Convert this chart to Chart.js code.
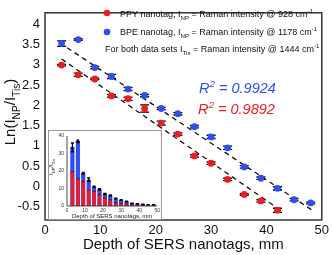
<!DOCTYPE html>
<html>
<head>
<meta charset="utf-8">
<script src="https://cdn.jsdelivr.net/npm/chart.js@4.4.0/dist/chart.umd.min.js"></script>
<style>
  body { margin: 0; background: #fff; }
  #wrap { position: relative; width: 332px; height: 255px; }
  #ins { position: absolute; left: 48px; top: 130px; }
</style>
</head>
<body>
<div id="wrap">
  <canvas id="main" width="332" height="255"></canvas>
  <canvas id="ins" width="114" height="90"></canvas>
</div>
<script>
// main plot data
const depthPPY = [3, 6, 9, 12, 15, 18, 21, 24, 27, 30, 33, 36, 39, 42];
const lnPPY = [2.99, 2.75, 2.65, 2.23, 2.16, 1.92, 1.56, 1.29, 0.75, 0.57, 0.17, -0.20, -0.36, -0.59];
const errPPY = [0.02, 0.04, 0.02, 0.03, 0.04, 0.09, 0.05, 0.03, 0.03, 0.03, 0.03, 0.02, 0.03, 0.05];

const depthBPE = [3, 6, 9, 12, 15, 18, 21, 24, 27, 30, 33, 36, 39, 42, 45, 48];
const lnBPE = [3.52, 3.62, 2.93, 2.71, 2.40, 2.24, 1.92, 1.79, 1.47, 1.22, 0.95, 0.48, 0.20, -0.05, -0.33, -0.41];
const errBPE = [0.07, 0.02, 0.03, 0.05, 0.04, 0.03, 0.03, 0.03, 0.03, 0.04, 0.04, 0.03, 0.03, 0.04, 0.03, 0.02];

// dashed linear fits, end points
const fitPPYx = [3, 43.1];
const fitPPYy = [3.14, -0.64];
const fitBPEx = [4, 48.5];
const fitBPEy = [3.42, -0.61];

const xTicks = [0, 10, 20, 30, 40, 50];
const yTicks = [-0.5, 0, 0.5, 1, 1.5, 2, 2.5, 3, 3.5, 4];

// inset bar data
const insetDepth = [3, 6, 9, 12, 15, 18, 21, 24, 27, 30, 33, 36, 39, 42, 45, 48];
const insetBPE = [33.5, 37, 18.7, 15, 11, 9.5, 6.9, 6, 4.3, 3.4, 2.6, 1.6, 1.2, 0.95, 0.7, 0.65];
const insetBPEerr = [2.5, 0.7, 0.5, 1, 0.4, 0.4, 0.3, 0.3, 0.2, 0.2, 0.2, 0.1, 0.1, 0.1, 0.1, 0.1];
const insetPPY = [19.9, 15.6, 14.2, 9.3, 8.7, 6.8, 4.8, 3.6, 2.1, 1.8, 1.2, 0.8, 0.7, 0.55];
const insetXTicks = [0, 10, 20, 30, 40, 50];
const insetYTicks = [0, 5, 10, 15, 20, 25, 30, 35, 40];

const RED = '#ec1c24';
const BLUE = '#2f4ff0';
const FONT = 'Arial, "Liberation Sans", sans-serif';

const pts = (xs, ys) => xs.map((x, i) => ({ x: x, y: ys[i] }));

// text with sub/superscripts
function rich(ctx, parts, x, y, size, color, opt) {
  opt = opt || {};
  const style = opt.italic ? 'italic ' : '';
  let w = 0;
  const seg = parts.map(p => {
    const s = p[1] ? size * 0.68 : size;
    ctx.font = style + s + 'px ' + FONT;
    const m = ctx.measureText(p[0]).width;
    w += m;
    return { t: p[0], k: p[1], s: s, m: m };
  });
  let cx = opt.center ? x - w / 2 : x;
  ctx.fillStyle = color;
  ctx.textAlign = 'left';
  ctx.textBaseline = 'alphabetic';
  seg.forEach(g => {
    ctx.font = style + g.s + 'px ' + FONT;
    const dy = g.k === 'sub' ? size * 0.3 : g.k === 'sup' ? -size * 0.42 : 0;
    ctx.fillText(g.t, cx, y + dy);
    cx += g.m;
  });
}

function drawErr(ctx, xs, ys, es, sx, sy, cap) {
  ctx.save();
  ctx.strokeStyle = '#000';
  ctx.lineWidth = 1.3;
  xs.forEach((x, i) => {
    const px = sx.getPixelForValue(x);
    const top = sy.getPixelForValue(ys[i] + es[i]);
    const bot = sy.getPixelForValue(ys[i] - es[i]);
    ctx.beginPath();
    ctx.moveTo(px, top); ctx.lineTo(px, bot);
    ctx.moveTo(px - cap, top); ctx.lineTo(px + cap, top);
    ctx.moveTo(px - cap, bot); ctx.lineTo(px + cap, bot);
    ctx.stroke();
  });
  ctx.restore();
}

const mainDecor = {
  id: 'mainDecor',
  beforeDatasetsDraw(chart) {
    const { ctx, scales } = chart;
    drawErr(ctx, depthPPY, lnPPY, errPPY, scales.x, scales.y, 4.5);
    drawErr(ctx, depthBPE, lnBPE, errBPE, scales.x, scales.y, 4.5);
  },
  afterDraw(chart) {
    const { ctx, chartArea: a } = chart;
    ctx.save();
    ctx.strokeStyle = '#333';
    ctx.lineWidth = 1.5;
    ctx.strokeRect(a.left, a.top, a.right - a.left, a.bottom - a.top);

    // y axis title
    ctx.translate(15, 112);
    ctx.rotate(-Math.PI / 2);
    rich(ctx, [['Ln(I'], ['NP', 'sub'], ['/I'], ['Tis', 'sub'], [')']], 0, 0, 15, '#111', { center: true });
    ctx.restore();

    // legend
    ctx.save();
    ctx.fillStyle = RED;
    ctx.beginPath(); ctx.arc(107, 13, 3.3, 0, Math.PI * 2); ctx.fill();
    ctx.fillStyle = BLUE;
    ctx.beginPath(); ctx.arc(107, 32, 3.3, 0, Math.PI * 2); ctx.fill();
    ctx.restore();
    rich(ctx, [['PPY nanotag, I'], ['NP', 'sub'], [' = Raman intensity @ 928 cm'], ['-1', 'sup']], 120, 17, 9, '#111');
    rich(ctx, [['BPE nanotag, I'], ['NP', 'sub'], [' = Raman intensity @ 1178 cm'], ['-1', 'sup']], 120, 35, 9, '#111');
    rich(ctx, [['For both data sets I'], ['Tis', 'sub'], [' = Raman intensity @ 1444 cm'], ['-1', 'sup']], 105, 52, 9, '#111');

    // R squared
    rich(ctx, [['R'], ['2', 'sup'], [' = 0.9924']], 199, 93, 14.5, BLUE, { italic: true });
    rich(ctx, [['R'], ['2', 'sup'], [' = 0.9892']], 198, 114, 14.5, RED, { italic: true });
  }
};

new Chart(document.getElementById('main').getContext('2d'), {
  type: 'scatter',
  data: {
    datasets: [
      { data: pts(depthPPY, lnPPY), backgroundColor: RED, borderWidth: 0, pointRadius: 3.4 },
      { data: pts(depthBPE, lnBPE), backgroundColor: BLUE, borderWidth: 0, pointRadius: 3.4 },
      { data: pts(fitPPYx, fitPPYy), showLine: true, borderColor: '#111', borderWidth: 1.3, borderDash: [5, 4], pointRadius: 0 },
      { data: pts(fitBPEx, fitBPEy), showLine: true, borderColor: '#111', borderWidth: 1.3, borderDash: [5, 4], pointRadius: 0 }
    ]
  },
  options: {
    responsive: false,
    animation: false,
    devicePixelRatio: 1,
    layout: { padding: { top: 3, right: 10, left: 0, bottom: 0 } },
    plugins: { legend: { display: false }, tooltip: { enabled: false } },
    scales: {
      x: {
        type: 'linear', min: 0, max: 50,
        afterBuildTicks: s => { s.ticks = xTicks.map(v => ({ value: v })); },
        afterFit: s => { s.height = 35; },
        grid: { display: false, drawTicks: false },
        border: { display: false },
        ticks: { color: '#111', font: { family: FONT, size: 13 }, padding: 3, callback: v => String(v) },
        title: { display: true, text: 'Depth of SERS nanotags, mm', color: '#111', font: { family: FONT, size: 15 }, padding: { top: 0, bottom: 1 } }
      },
      y: {
        min: -0.83, max: 4.28,
        afterBuildTicks: s => { s.ticks = yTicks.map(v => ({ value: v })); },
        afterFit: s => { s.width = 45; },
        grid: { display: false, drawTicks: false },
        border: { display: false },
        ticks: { color: '#111', font: { family: FONT, size: 13 }, padding: 5, callback: v => String(v) }
      }
    }
  },
  plugins: [mainDecor]
});

// inset
const insetDecor = {
  id: 'insetDecor',
  beforeDraw(chart) {
    const ctx = chart.ctx;
    ctx.save();
    ctx.fillStyle = '#fff';
    ctx.fillRect(0, 0, chart.width, chart.height);
    ctx.restore();
  },
  afterDatasetsDraw(chart) {
    const { ctx, scales } = chart;
    drawErr(ctx, insetDepth, insetBPE, insetBPEerr, scales.x, scales.y, 1.5);
  },
  afterDraw(chart) {
    const { ctx, chartArea: a } = chart;
    ctx.save();
    ctx.strokeStyle = '#999';
    ctx.lineWidth = 1;
    ctx.strokeRect(0.5, 0.5, chart.width - 1, chart.height - 1);
    ctx.strokeStyle = '#222';
    ctx.lineWidth = 0.8;
    ctx.beginPath();
    ctx.moveTo(a.left, a.top); ctx.lineTo(a.left, a.bottom); ctx.lineTo(a.right, a.bottom);
    ctx.stroke();
    ctx.translate(5, 37);
    ctx.rotate(-Math.PI / 2);
    rich(ctx, [['I'], ['NP', 'sub'], ['/I'], ['Tis', 'sub']], 0, 0, 6, '#222', { center: true });
    ctx.restore();
  }
};

new Chart(document.getElementById('ins').getContext('2d'), {
  type: 'bar',
  data: {
    datasets: [
      { data: pts(depthPPY, insetPPY), backgroundColor: RED, borderColor: '#600', borderWidth: { top: 1 }, barThickness: 3.6, grouped: false, order: 1 },
      { data: pts(insetDepth, insetBPE), backgroundColor: BLUE, borderColor: '#112', borderWidth: { top: 1 }, barThickness: 4.3, grouped: false, order: 2 }
    ]
  },
  options: {
    responsive: false,
    animation: false,
    devicePixelRatio: 1,
    layout: { padding: { top: 3, right: 4, left: 0, bottom: 0 } },
    plugins: { legend: { display: false }, tooltip: { enabled: false } },
    scales: {
      x: {
        type: 'linear', min: 0, max: 50, offset: false,
        afterBuildTicks: s => { s.ticks = insetXTicks.map(v => ({ value: v })); },
        afterFit: s => { s.height = 14; },
        grid: { display: false, drawTicks: false },
        border: { display: false },
        ticks: { color: '#333', font: { family: FONT, size: 5 }, padding: 2, maxRotation: 0 },
        title: { display: true, text: 'Depth of SERS nanotags, mm', color: '#222', font: { family: FONT, size: 6 }, padding: 0 }
      },
      y: {
        min: 0, max: 40,
        afterBuildTicks: s => { s.ticks = insetYTicks.map(v => ({ value: v })); },
        afterFit: s => { s.width = 19; },
        grid: { display: false, drawTicks: false },
        border: { display: false },
        ticks: { color: '#333', font: { family: FONT, size: 5 }, padding: 3 }
      }
    }
  },
  plugins: [insetDecor]
});
</script>
</body>
</html>
